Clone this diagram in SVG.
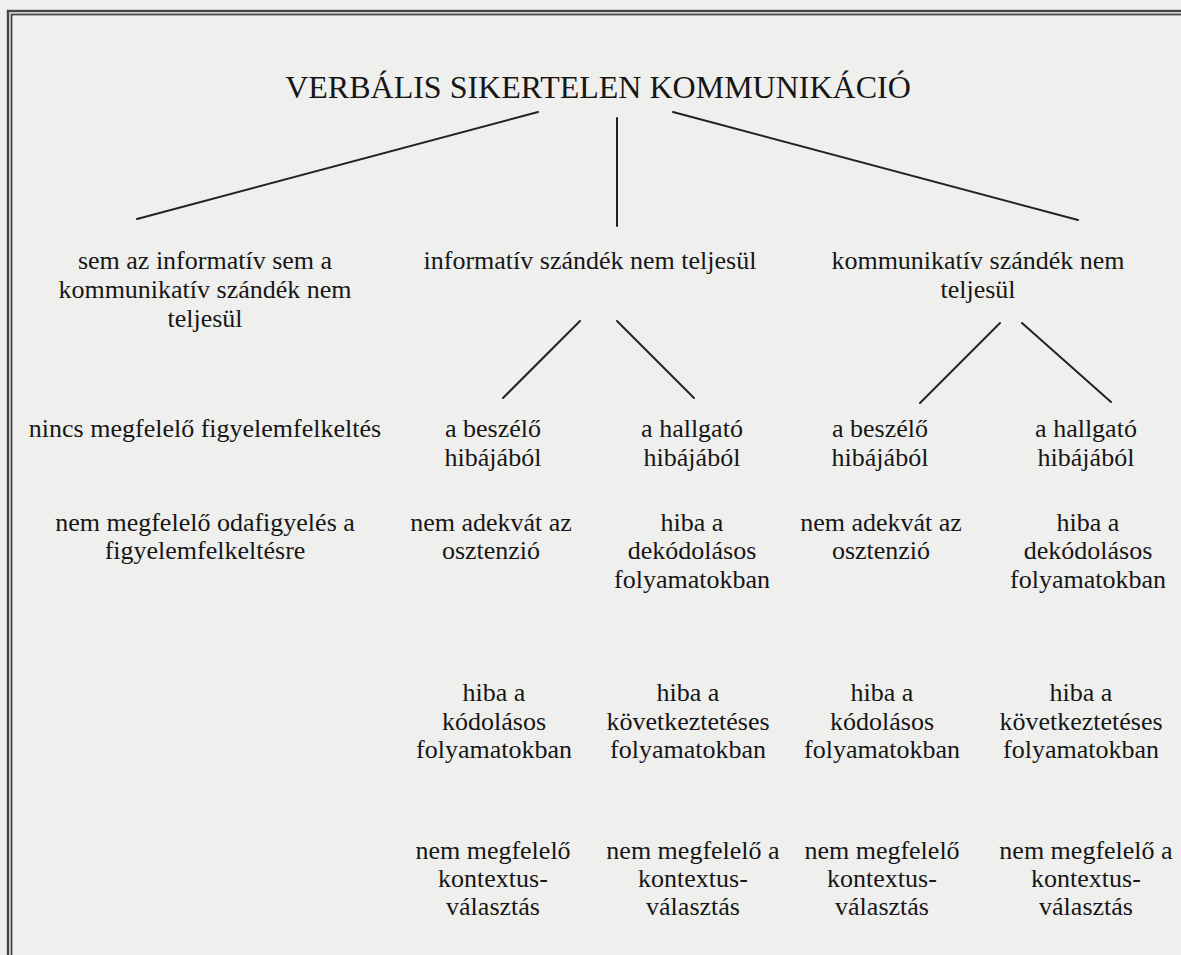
<svg xmlns="http://www.w3.org/2000/svg" width="1181" height="955" viewBox="0 0 1181 955">
<style>
text{font-family:"Liberation Serif","Times New Roman",serif;font-size:26px;fill:#161616;text-anchor:middle}
.title{font-size:32px}
.edge{stroke:#222;stroke-width:2;fill:none;stroke-linecap:round}
.frame{fill:none;stroke:#444}
</style>
<rect x="0" y="0" width="1181" height="955" fill="#efefed"/>
<rect class="frame" x="8" y="11" width="1200" height="980" stroke-width="2.4"/>
<rect class="frame" x="11.5" y="14.5" width="1200" height="980" stroke-width="1.8"/>
<g id="connectors">
<line class="edge" x1="538" y1="112" x2="137" y2="219"/>
<line class="edge" x1="617" y1="118" x2="617" y2="226"/>
<line class="edge" x1="673" y1="112" x2="1078" y2="220"/>
<line class="edge" x1="580" y1="321" x2="503" y2="398"/>
<line class="edge" x1="617" y1="321" x2="694" y2="398"/>
<line class="edge" x1="1000" y1="323" x2="920" y2="403"/>
<line class="edge" x1="1022" y1="323" x2="1111" y2="402"/>
</g>
<g id="root"><text class="title" x="598" y="98">VERBÁLIS SIKERTELEN KOMMUNIKÁCIÓ</text></g>
<g id="n-both">
<text x="205" y="269">sem az informatív sem a</text>
<text x="205" y="298">kommunikatív szándék nem</text>
<text x="205" y="327">teljesül</text>
</g>
<g id="n-inf"><text x="590" y="269">informatív szándék nem teljesül</text></g>
<g id="n-kom">
<text x="978" y="269">kommunikatív szándék nem</text>
<text x="978" y="298">teljesül</text>
</g>
<g id="n-figy"><text x="205" y="437">nincs megfelelő figyelemfelkeltés</text></g>
<g id="n-odafigy">
<text x="205" y="531">nem megfelelő odafigyelés a</text>
<text x="205" y="559">figyelemfelkeltésre</text>
</g>
<g id="n-inf-besz">
<text x="493" y="437">a beszélő</text>
<text x="493" y="466">hibájából</text>
</g>
<g id="n-inf-hall">
<text x="692" y="437">a hallgató</text>
<text x="692" y="466">hibájából</text>
</g>
<g id="n-kom-besz">
<text x="880" y="437">a beszélő</text>
<text x="880" y="466">hibájából</text>
</g>
<g id="n-kom-hall">
<text x="1086" y="437">a hallgató</text>
<text x="1086" y="466">hibájából</text>
</g>
<g id="n-inf-besz-1">
<text x="491" y="531">nem adekvát az</text>
<text x="491" y="559">osztenzió</text>
</g>
<g id="n-inf-hall-1">
<text x="692" y="531">hiba a</text>
<text x="692" y="559">dekódolásos</text>
<text x="692" y="588">folyamatokban</text>
</g>
<g id="n-kom-besz-1">
<text x="881" y="531">nem adekvát az</text>
<text x="881" y="559">osztenzió</text>
</g>
<g id="n-kom-hall-1">
<text x="1088" y="531">hiba a</text>
<text x="1088" y="559">dekódolásos</text>
<text x="1088" y="588">folyamatokban</text>
</g>
<g id="n-inf-besz-2">
<text x="494" y="701">hiba a</text>
<text x="494" y="730">kódolásos</text>
<text x="494" y="758">folyamatokban</text>
</g>
<g id="n-inf-hall-2">
<text x="688" y="701">hiba a</text>
<text x="688" y="730">következtetéses</text>
<text x="688" y="758">folyamatokban</text>
</g>
<g id="n-kom-besz-2">
<text x="882" y="701">hiba a</text>
<text x="882" y="730">kódolásos</text>
<text x="882" y="758">folyamatokban</text>
</g>
<g id="n-kom-hall-2">
<text x="1081" y="701">hiba a</text>
<text x="1081" y="730">következtetéses</text>
<text x="1081" y="758">folyamatokban</text>
</g>
<g id="n-inf-besz-3">
<text x="493" y="859">nem megfelelő</text>
<text x="493" y="887">kontextus-</text>
<text x="493" y="915">választás</text>
</g>
<g id="n-inf-hall-3">
<text x="693" y="859">nem megfelelő a</text>
<text x="693" y="887">kontextus-</text>
<text x="693" y="915">választás</text>
</g>
<g id="n-kom-besz-3">
<text x="882" y="859">nem megfelelő</text>
<text x="882" y="887">kontextus-</text>
<text x="882" y="915">választás</text>
</g>
<g id="n-kom-hall-3">
<text x="1086" y="859">nem megfelelő a</text>
<text x="1086" y="887">kontextus-</text>
<text x="1086" y="915">választás</text>
</g>
</svg>
